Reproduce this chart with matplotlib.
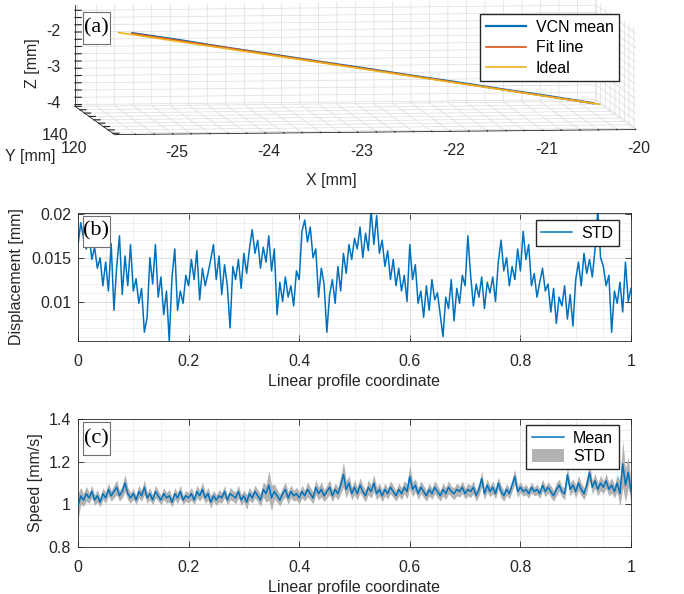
import numpy as np
import matplotlib as mpl
from matplotlib import pyplot as plt
from matplotlib.ticker import MultipleLocator, FuncFormatter, FixedLocator
from matplotlib.patches import Patch, Rectangle
from matplotlib.lines import Line2D

plt.rcParams['font.family'] = ['Liberation Sans', 'DejaVu Sans']
plt.rcParams['font.size'] = 10

# ===================== Data =====================
# (a) 3D trajectory
vcn_x = [-25.05, -24.55, -24.05, -23.55, -23.05, -22.55, -22.05, -21.55, -21.05, -20.55, -20.07]
vcn_y = [156, 156, 156, 156, 156, 156, 156, 156, 156, 156, 156]
vcn_z = [-2.17, -2.37, -2.59, -2.79, -3.00, -3.20, -3.41, -3.61, -3.82, -4.02, -4.23]
fit_x = [-25.05, -20.07]
fit_y = [156, 156]
fit_z = [-2.18, -4.23]
ideal_x = [-25.20, -20.00]
ideal_y = [156, 156]
ideal_z = [-2.15, -4.26]

# (b) STD of displacement along the profile
std_disp = [
    0.0165, 0.0190, 0.0172, 0.0160, 0.0178, 0.0148, 0.0162, 0.0138, 0.0150, 0.0118,
    0.0145, 0.0112, 0.0166, 0.0090, 0.0140, 0.0175, 0.0108, 0.0152, 0.0118, 0.0165,
    0.0112, 0.0126, 0.0098, 0.0115, 0.0065, 0.0082, 0.0150, 0.0120, 0.0165, 0.0105,
    0.0128, 0.0085, 0.0112, 0.0055, 0.0128, 0.0160, 0.0090, 0.0112, 0.0098, 0.0130,
    0.0118, 0.0148, 0.0125, 0.0158, 0.0102, 0.0138, 0.0118, 0.0132, 0.0148, 0.0165,
    0.0125, 0.0152, 0.0108, 0.0142, 0.0118, 0.0070, 0.0140, 0.0125, 0.0148, 0.0115,
    0.0155, 0.0132, 0.0160, 0.0182, 0.0155, 0.0170, 0.0138, 0.0162, 0.0145, 0.0175,
    0.0135, 0.0160, 0.0085, 0.0122, 0.0100, 0.0128, 0.0105, 0.0118, 0.0095, 0.0135,
    0.0125, 0.0180, 0.0193, 0.0168, 0.0185, 0.0150, 0.0160, 0.0105, 0.0138, 0.0120,
    0.0065, 0.0108, 0.0125, 0.0098, 0.0140, 0.0112, 0.0155, 0.0132, 0.0165, 0.0148,
    0.0172, 0.0160, 0.0185, 0.0150, 0.0178, 0.0158, 0.0205, 0.0165, 0.0198, 0.0155,
    0.0170, 0.0140, 0.0158, 0.0125, 0.0148, 0.0118, 0.0138, 0.0112, 0.0130, 0.0100,
    0.0165, 0.0125, 0.0142, 0.0098, 0.0112, 0.0082, 0.0118, 0.0090, 0.0125, 0.0102,
    0.0110, 0.0085, 0.0060, 0.0105, 0.0092, 0.0125, 0.0078, 0.0115, 0.0098, 0.0130,
    0.0118, 0.0175, 0.0130, 0.0095, 0.0120, 0.0105, 0.0128, 0.0092, 0.0122, 0.0110,
    0.0128, 0.0100, 0.0145, 0.0170, 0.0135, 0.0150, 0.0118, 0.0140, 0.0125, 0.0160,
    0.0135, 0.0180, 0.0148, 0.0165, 0.0118, 0.0132, 0.0105, 0.0122, 0.0138, 0.0112,
    0.0120, 0.0088, 0.0115, 0.0075, 0.0105, 0.0095, 0.0118, 0.0080, 0.0108, 0.0072,
    0.0125, 0.0145, 0.0118, 0.0155, 0.0132, 0.0148, 0.0128, 0.0160, 0.0205, 0.0150,
    0.0140, 0.0118, 0.0130, 0.0065, 0.0112, 0.0098, 0.0122, 0.0088, 0.0145, 0.0100,
    0.0115,
]

# (c) speed mean and STD along the profile
speed_mean = [
    0.99, 1.04, 1.02, 1.05, 1.03, 1.06, 1.02, 1.04, 1.01, 1.05,
    1.03, 1.07, 1.04, 1.06, 1.08, 1.04, 1.06, 1.10, 1.05, 1.03,
    1.05, 1.02, 1.06, 1.04, 1.08, 1.03, 1.05, 1.02, 1.06, 1.04,
    1.02, 1.05, 1.03, 1.04, 1.01, 1.05, 1.03, 1.06, 1.02, 1.04,
    1.03, 1.05, 1.02, 1.06, 1.04, 1.07, 1.03, 1.05, 1.01, 1.04,
    1.02, 1.04, 1.03, 1.06, 1.02, 1.05, 1.04, 1.03, 1.06, 1.02,
    1.04, 1.01, 1.05, 1.03, 1.06, 1.04, 1.02, 1.07, 1.05, 1.09,
    1.03, 1.06, 1.04, 1.02, 1.05, 1.07, 1.03, 1.06, 1.04, 1.05,
    1.03, 1.06, 1.04, 1.07, 1.05, 1.03, 1.08, 1.05, 1.07, 1.04,
    1.06, 1.08, 1.04, 1.07, 1.05, 1.09, 1.14, 1.07, 1.10, 1.05,
    1.08, 1.05, 1.09, 1.06, 1.04, 1.08, 1.06, 1.10, 1.05, 1.07,
    1.04, 1.07, 1.05, 1.08, 1.06, 1.04, 1.07, 1.05, 1.08, 1.06,
    1.13, 1.07, 1.09, 1.05, 1.08, 1.06, 1.04, 1.07, 1.05, 1.08,
    1.06, 1.04, 1.07, 1.05, 1.08, 1.06, 1.05, 1.07, 1.06, 1.08,
    1.05, 1.07, 1.06, 1.08, 1.04, 1.07, 1.12, 1.05, 1.09, 1.06,
    1.08, 1.05, 1.10, 1.06, 1.04, 1.07, 1.05, 1.09, 1.13, 1.06,
    1.08, 1.06, 1.07, 1.05, 1.08, 1.06, 1.07, 1.05, 1.09, 1.06,
    1.08, 1.06, 1.04, 1.07, 1.09, 1.06, 1.05, 1.14, 1.07, 1.09,
    1.06, 1.10, 1.07, 1.05, 1.09, 1.15, 1.08, 1.11, 1.07, 1.10,
    1.08, 1.11, 1.07, 1.09, 1.06, 1.10, 1.05, 1.19, 1.09, 1.15,
    1.06,
]
speed_std = [
    0.060, 0.040, 0.030, 0.035, 0.025, 0.030, 0.025, 0.030, 0.022, 0.028,
    0.025, 0.030, 0.025, 0.030, 0.035, 0.025, 0.030, 0.040, 0.030, 0.025,
    0.025, 0.022, 0.030, 0.025, 0.035, 0.025, 0.028, 0.022, 0.030, 0.025,
    0.022, 0.028, 0.025, 0.030, 0.022, 0.028, 0.025, 0.030, 0.022, 0.025,
    0.025, 0.030, 0.022, 0.030, 0.025, 0.035, 0.025, 0.030, 0.028, 0.025,
    0.025, 0.030, 0.025, 0.028, 0.022, 0.030, 0.025, 0.028, 0.030, 0.025,
    0.028, 0.035, 0.030, 0.025, 0.030, 0.028, 0.030, 0.035, 0.040, 0.070,
    0.060, 0.035, 0.030, 0.028, 0.030, 0.035, 0.028, 0.030, 0.025, 0.030,
    0.028, 0.030, 0.025, 0.035, 0.030, 0.028, 0.035, 0.030, 0.035, 0.028,
    0.030, 0.035, 0.028, 0.030, 0.030, 0.040, 0.060, 0.040, 0.035, 0.030,
    0.035, 0.030, 0.035, 0.030, 0.028, 0.035, 0.030, 0.040, 0.030, 0.030,
    0.028, 0.030, 0.025, 0.030, 0.028, 0.025, 0.030, 0.028, 0.030, 0.035,
    0.055, 0.035, 0.030, 0.028, 0.030, 0.028, 0.025, 0.030, 0.025, 0.030,
    0.028, 0.025, 0.030, 0.028, 0.030, 0.025, 0.028, 0.030, 0.025, 0.030,
    0.025, 0.030, 0.028, 0.030, 0.025, 0.030, 0.035, 0.028, 0.030, 0.025,
    0.030, 0.025, 0.028, 0.030, 0.025, 0.028, 0.025, 0.030, 0.035, 0.028,
    0.025, 0.022, 0.025, 0.022, 0.025, 0.020, 0.025, 0.022, 0.028, 0.025,
    0.025, 0.028, 0.025, 0.030, 0.028, 0.025, 0.028, 0.035, 0.030, 0.028,
    0.030, 0.035, 0.030, 0.028, 0.035, 0.040, 0.030, 0.035, 0.030, 0.035,
    0.030, 0.035, 0.030, 0.035, 0.030, 0.040, 0.060, 0.110, 0.080, 0.070,
    0.050,
]

BLUE = '#0072BD'
ORANGE = '#D95319'
YELLOW = '#EDB120'
AXC = '#262626'
FS = 11.5

fig = plt.figure(figsize=(6.84, 5.94), dpi=100)


def style_2d(ax):
    for s in ax.spines.values():
        s.set_color(AXC)
        s.set_linewidth(0.6)
    ax.tick_params(which='both', direction='in', colors=AXC, labelsize=FS,
                   top=True, right=True, length=4, width=0.6)
    ax.tick_params(axis='x', pad=9)
    ax.tick_params(axis='y', pad=5)
    ax.tick_params(which='minor', length=0)
    ax.xaxis.set_major_locator(MultipleLocator(0.2))
    ax.xaxis.set_minor_locator(MultipleLocator(0.05))
    ax.xaxis.set_major_formatter(FuncFormatter(lambda v, p: f"{v:g}"))
    ax.grid(which='major', color='#d9d9d9', linewidth=0.6)
    ax.grid(which='minor', color='#ececec', linewidth=0.6)
    ax.set_axisbelow(True)
    ax.set_xlim(0, 1)
    ax.set_xlabel("Linear profile coordinate", fontsize=FS, color=AXC, labelpad=4)


def panel_tag(ax, s, x0, y0, w, h, trans):
    ax.add_artist(Rectangle((x0, y0), w, h, transform=trans, fc='white',
                            ec='#707070', lw=0.8, zorder=9, clip_on=False))
    ax.text(x0 + w / 2, y0 + h / 2, s, transform=trans, ha='center', va='center',
            fontsize=16, family='Liberation Serif', color='black', zorder=10)


def int_only(v, p):
    return f"{v:.0f}" if abs(v - round(v)) < 1e-6 else ""


legend_kw = dict(fontsize=FS, fancybox=False, edgecolor=AXC, framealpha=1,
                 borderaxespad=0.0, borderpad=0.35, handletextpad=0.6)

# ===================== (a) 3D =====================
side = 615
cx, cy = 347, 75.5
ax3 = fig.add_axes([(cx - side / 2) / 684, 1 - (cy + side / 2) / 594, side / 684, side / 594],
                   projection='3d', proj_type='ortho')
ax3.patch.set_visible(False)
ax3.plot(vcn_x, vcn_y, vcn_z, color=BLUE, lw=1.6, label='VCN mean')
ax3.plot(fit_x, fit_y, fit_z, color=ORANGE, lw=1.2, label='Fit line')
ax3.plot(ideal_x, ideal_y, ideal_z, color=YELLOW, lw=1.2, label='Ideal')
ax3.set_xlim(-25.63, -20)
ax3.set_ylim(118, 160)
ax3.set_zlim(-4.25, -1.45)
ax3.set_box_aspect((515, 334, 100))
ax3.view_init(elev=4.8, azim=-96.7)
ax3.xaxis.set_major_locator(MultipleLocator(0.2))
ax3.xaxis.set_major_formatter(FuncFormatter(int_only))
ax3.zaxis.set_major_locator(MultipleLocator(0.2))
ax3.zaxis.set_major_formatter(FuncFormatter(int_only))
ax3.yaxis.set_major_locator(MultipleLocator(5))
ax3.yaxis.set_major_formatter(FuncFormatter(lambda v, p: f"{v:.0f}" if v in (120, 140) else ""))
for axis in (ax3.xaxis, ax3.yaxis, ax3.zaxis):
    axis.set_pane_color((1, 1, 1, 1))
    axis._axinfo['grid']['color'] = '#dcdcdc'
    axis._axinfo['grid']['linewidth'] = 0.5
    axis._axinfo['tick']['inward_factor'] = 0.0
    axis._axinfo['tick']['outward_factor'] = 0.15
    axis.line.set_color(AXC)
    axis.line.set_linewidth(0.6)
ax3.tick_params(labelsize=FS, colors=AXC)
ax3.xaxis.set_tick_params(pad=12)
ax3.yaxis.set_tick_params(pad=9)
ax3.zaxis.set_tick_params(pad=1)
fig.text(331 / 684, 1 - 180 / 594, 'X [mm]', ha='center', va='center', fontsize=FS, color=AXC)
fig.text(30 / 684, 1 - 157 / 594, 'Y [mm]', ha='center', va='center', fontsize=FS, color=AXC)
fig.text(32 / 684, 1 - 63 / 594, 'Z [mm]', ha='center', va='center', fontsize=FS,
         color=AXC, rotation=90)
panel_tag(fig, '(a)', 83 / 684, 1 - 44 / 594, 27 / 684, 32 / 594, fig.transFigure)
fig.legend(handles=ax3.get_lines(), loc='upper right',
           bbox_to_anchor=(619 / 684, 1 - 14 / 594), handlelength=2.5,
           labelspacing=0.35, **legend_kw)

# ===================== (b) STD =====================
axb = fig.add_axes([78 / 684, 1 - 341 / 594, 553 / 684, 128 / 594])
xb = np.linspace(0, 1, len(std_disp))
axb.plot(xb, std_disp, color=BLUE, lw=1.1, label='STD')
style_2d(axb)
axb.set_ylim(0.0055, 0.0201)
axb.yaxis.set_major_locator(FixedLocator([0.01, 0.015, 0.02]))
axb.yaxis.set_major_formatter(FuncFormatter(lambda v, p: f"{v:g}"))
axb.yaxis.set_minor_locator(MultipleLocator(0.001))
axb.set_ylabel("Displacement [mm]", fontsize=FS, color=AXC, labelpad=5)
axb.legend(loc='upper right', bbox_to_anchor=(0.978, 0.945), handlelength=1.9,
           **legend_kw)
panel_tag(axb, '(b)', 4.5 / 553, 1 - 34 / 128, 27.5 / 553, 31.5 / 128, axb.transAxes)

# ===================== (c) Speed =====================
axc = fig.add_axes([78 / 684, 1 - 547 / 594, 553 / 684, 128 / 594])
xc = np.linspace(0, 1, len(speed_mean))
m = np.array(speed_mean)
s = np.array(speed_std)
axc.fill_between(xc, m - s, m + s, color='#b3b3b3', lw=0, zorder=2)
axc.plot(xc, m, color=BLUE, lw=1.1, zorder=3)
style_2d(axc)
axc.set_ylim(0.8, 1.4)
axc.yaxis.set_major_locator(MultipleLocator(0.2))
axc.yaxis.set_minor_locator(MultipleLocator(0.05))
axc.yaxis.set_major_formatter(FuncFormatter(lambda v, p: f"{v:g}"))
axc.set_ylabel("Speed [mm/s]", fontsize=FS, color=AXC, labelpad=4)
axc.legend(handles=[Line2D([], [], color=BLUE, lw=1.1, label='Mean'),
                    Patch(facecolor='#b3b3b3', label='STD')],
           loc='upper right', bbox_to_anchor=(0.978, 0.953), handlelength=2.0,
           handleheight=0.85, labelspacing=0.2, **legend_kw)
panel_tag(axc, '(c)', 4.5 / 553, 1 - 36 / 128, 27.5 / 553, 33 / 128, axc.transAxes)

plt.savefig('out.png', dpi=100)
